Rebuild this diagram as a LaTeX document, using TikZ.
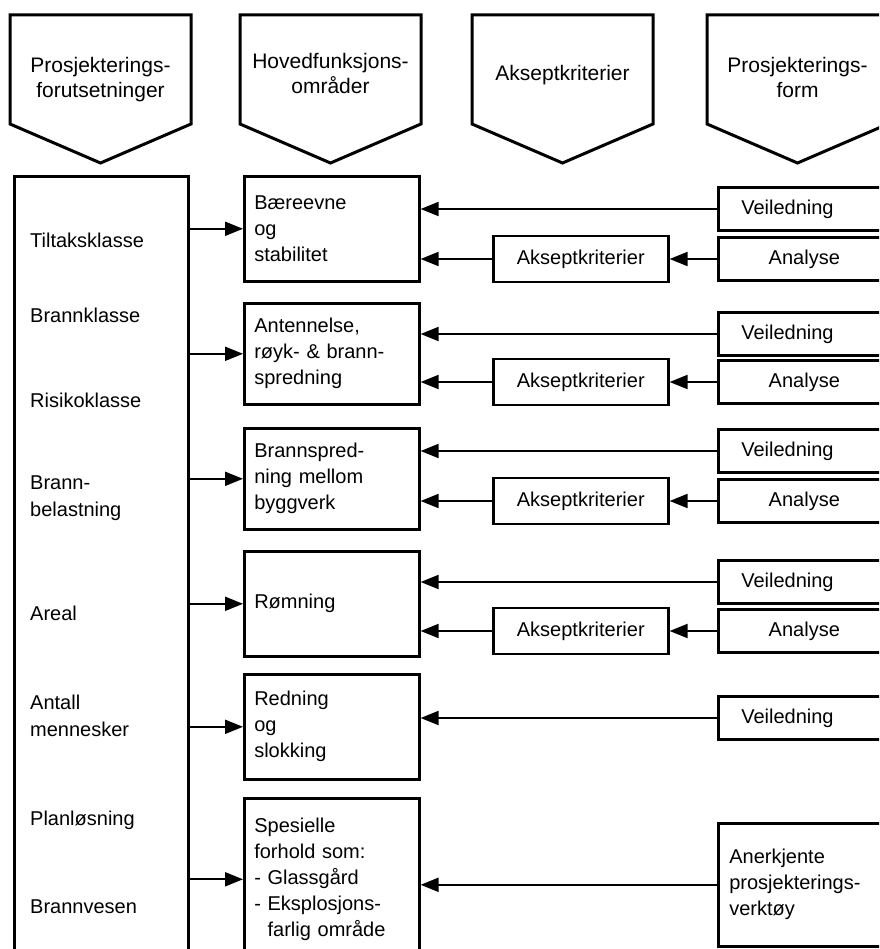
\documentclass[tikz,border=0pt]{standalone}
\usepackage{fontspec}
\setmainfont{Liberation Sans}
\usetikzlibrary{arrows.meta}
\tikzset{
  frame/.style={draw, line width=2.6pt, line join=miter},
  hdtext/.style={align=center, font=\fontsize{21}{25}\selectfont},
  itemtext/.style={anchor=west, align=left, inner sep=0pt, font=\fontsize{20}{27}\selectfont},
  hfbox/.style={frame, anchor=north west, minimum width=175pt, text width=155pt, inner xsep=10pt, align=left, font=\fontsize{20}{26}\selectfont},
  akbox/.style={frame, anchor=west, minimum width=175pt, minimum height=46pt, font=\fontsize{20}{24}\selectfont},
  rbox/.style={frame, anchor=west, minimum height=43pt, text width=126pt, inner xsep=23pt, font=\fontsize{20}{24}\selectfont},
  pil/.style={line width=2pt, -{Triangle[length=18pt,width=14pt]}}
}
\begin{document}
\begin{tikzpicture}[x=1pt,y=-1pt]
    \path[use as bounding box, clip] (0,0) rectangle (879,949);

    \foreach \i/\x/\y/\t in {1/10/80/{Prosjekterings-\\forutsetninger},2/240/73.5/{Hovedfunksjons-\\områder},3/472/75/Akseptkriterier,4/707/77/{Prosjekterings-\\form}} {
      \draw[frame, line width=3pt] (\x,15) -- ++(181,0) -- ++(0,109) -- ++(-90.5,39) -- ++(-90.5,-39) -- cycle;
      \node[hdtext] (hd\i) at (\x+90.5,\y) {\t};
    }

    \node[frame, anchor=north west, minimum width=174pt, minimum height=800pt] (forut) at (13,175) {};
    \foreach \i/\y/\t in {1/240/Tiltaksklasse,2/315/Brannklasse,3/400/Risikoklasse,4/498/{Brann-\\belastning},5/613/Areal,6/716/{Antall\\mennesker},7/820/Planløsning,8/907/Brannvesen} {
      \node[itemtext] (kl\i) at (30,\y) {\t};
    }

    \node[hfbox, minimum height=105pt] (hf1) at (243,175) {Bæreevne\\og\\stabilitet};
    \node[hfbox, minimum height=101pt] (hf2) at (243,302) {Antennelse,\\røyk- \& brann-\\spredning};
    \node[hfbox, minimum height=101pt] (hf3) at (243,427) {Brannspred-\\ning mellom\\byggverk};
    \node[hfbox, minimum height=105pt] (hf4) at (243,550) {Rømning};
    \node[hfbox, minimum height=105pt] (hf5) at (243,673) {Redning\\og\\slokking};
    \node[hfbox, minimum height=162pt] (hf6) at (243,797) {Spesielle\\forhold som:\\- Glassgård\\- Eksplosjons-\\\phantom{- }farlig område};

    \foreach \i in {1,...,6} {
      \draw[pil] (forut.east |- hf\i.west) -- (hf\i.west);
    }

    \foreach \i/\y in {1/209,2/334,3/451,4/582,5/718} {
      \node[rbox, align=left] (vl\i) at (717,\y) {Veiledning};
      \draw[pil] (vl\i.west) -- (vl\i.west -| hf\i.east);
    }

    \foreach \i/\y in {1/259,2/382,3/501,4/631} {
      \node[akbox] (ak\i) at (492,\y) {Akseptkriterier};
      \node[rbox, align=center] (an\i) at (717,\y) {Analyse};
      \draw[pil] (an\i.west) -- (ak\i.east);
      \draw[pil] (ak\i.west) -- (ak\i.west -| hf\i.east);
    }

    \node[frame, anchor=north west, minimum width=172pt, minimum height=123pt, text width=150pt, inner xsep=11pt, align=left, font=\fontsize{20}{26}\selectfont] (verk) at (717,822) {Anerkjente\\prosjekterings-\\verktøy};
    \draw[pil] (verk.west) -- (verk.west -| hf6.east);
  \end{tikzpicture}
\end{document}
